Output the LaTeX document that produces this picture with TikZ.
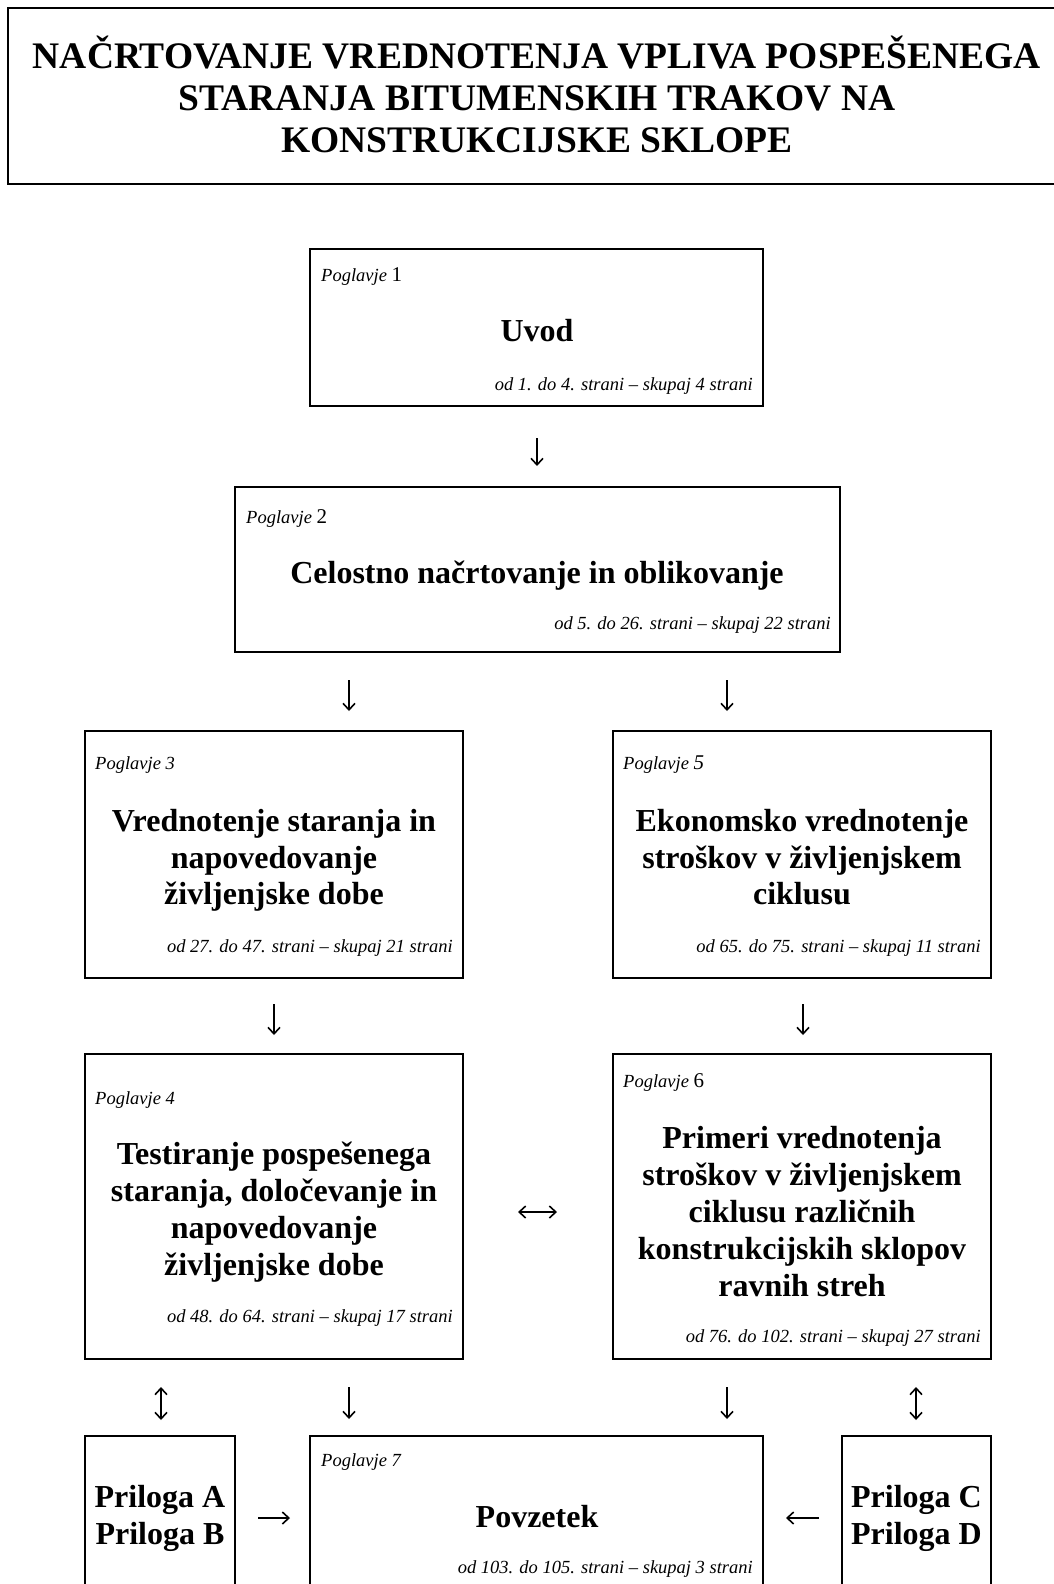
\documentclass[tikz,border=0pt]{standalone}
\usepackage{fontspec}
\setmainfont{Liberation Serif}
\usetikzlibrary{arrows.meta}
\begin{document}
\begin{tikzpicture}[x=1pt,y=-1pt,
  frame/.style={draw, line width=2pt, inner sep=0pt},
  chap/.style={font=\fontsize{18.5}{22}\selectfont\itshape, inner sep=0pt, anchor=base west},
  pages/.style={font=\fontsize{18.5}{22}\selectfont\itshape, inner sep=0pt, anchor=base east},
  ttl/.style={font=\fontsize{32}{37}\selectfont\bfseries, inner sep=0pt, anchor=base},
  head/.style={font=\fontsize{37.5}{42}\selectfont\bfseries, inner sep=0pt, anchor=base},
  arr/.style={line width=1.6pt, -{Straight Barb[length=6.5pt,width=12pt]}},
  darr/.style={line width=1.6pt, {Straight Barb[length=6.5pt,width=12pt]}-{Straight Barb[length=6.5pt,width=12pt]}}
]
\newcommand{\bignum}[1]{{\upshape\fontsize{21}{22}\selectfont #1}}
\fill[white] (0,0) rectangle (1054,1584);
\useasboundingbox (0,0) rectangle (1054,1584);

% title
\node[frame, minimum width=1062pt, minimum height=176pt] (hd) at (539,96) {};
\node[head] (h1) at (537,69) {NAČRTOVANJE VREDNOTENJA VPLIVA POSPEŠENEGA};
\node[head] (h2) at (537,111) {STARANJA BITUMENSKIH TRAKOV NA};
\node[head] (h3) at (537,153) {KONSTRUKCIJSKE SKLOPE};

% boxes
\node[frame, minimum width=453pt, minimum height=157pt] (b1) at (536.5,327.5) {};
\node[frame, minimum width=605pt, minimum height=165pt] (b2) at (537.5,569.5) {};
\node[frame, minimum width=378pt, minimum height=247pt] (b3) at (274,854.5) {};
\node[frame, minimum width=378pt, minimum height=247pt] (b5) at (802,854.5) {};
\node[frame, minimum width=378pt, minimum height=305pt] (b4) at (274,1206.5) {};
\node[frame, minimum width=378pt, minimum height=305pt] (b6) at (802,1206.5) {};
\node[frame, minimum width=453pt, minimum height=164pt] (b7) at (536.5,1518) {};
\node[frame, minimum width=150pt, minimum height=164pt] (pab) at (160,1518) {};
\node[frame, minimum width=149pt, minimum height=164pt] (pcd) at (916.5,1518) {};

% box 1
\node[chap] (b1c) at (321,281) {Poglavje \bignum{1}};
\node[ttl] (b1t) at (537,341) {Uvod};
\node[pages] (b1p) at (753,390) {od 1. do 4. strani – skupaj 4 strani};

% box 2
\node[chap] (b2c) at (246,523) {Poglavje \bignum{2}};
\node[ttl] (b2t) at (537,583) {Celostno načrtovanje in oblikovanje};
\node[pages] (b2p) at (831,629) {od 5. do 26. strani – skupaj 22 strani};

% box 3
\node[chap] (b3c) at (95,769) {Poglavje 3};
\node[ttl] (b3t1) at (274,831) {Vrednotenje staranja in};
\node[ttl] (b3t2) at (274,868) {napovedovanje};
\node[ttl] (b3t3) at (274,904) {življenjske dobe};
\node[pages] (b3p) at (453,952) {od 27. do 47. strani – skupaj 21 strani};

% box 5
\node[chap] (b5c) at (623,769) {Poglavje {\fontsize{21}{22}\selectfont 5}};
\node[ttl] (b5t1) at (802,831) {Ekonomsko vrednotenje};
\node[ttl] (b5t2) at (802,868) {stroškov v življenjskem};
\node[ttl] (b5t3) at (802,904) {ciklusu};
\node[pages] (b5p) at (981,952) {od 65. do 75. strani – skupaj 11 strani};

% box 4
\node[chap] (b4c) at (95,1104) {Poglavje 4};
\node[ttl] (b4t1) at (274,1164) {Testiranje pospešenega};
\node[ttl] (b4t2) at (274,1201) {staranja, določevanje in};
\node[ttl] (b4t3) at (274,1238) {napovedovanje};
\node[ttl] (b4t4) at (274,1275) {življenjske dobe};
\node[pages] (b4p) at (453,1322) {od 48. do 64. strani – skupaj 17 strani};

% box 6
\node[chap] (b6c) at (623,1087) {Poglavje \bignum{6}};
\node[ttl] (b6t1) at (802,1148) {Primeri vrednotenja};
\node[ttl] (b6t2) at (802,1185) {stroškov v življenjskem};
\node[ttl] (b6t3) at (802,1222) {ciklusu različnih};
\node[ttl] (b6t4) at (802,1259) {konstrukcijskih sklopov};
\node[ttl] (b6t5) at (802,1296) {ravnih streh};
\node[pages] (b6p) at (981,1342) {od 76. do 102. strani – skupaj 27 strani};

% box 7
\node[chap] (b7c) at (321,1466) {Poglavje 7};
\node[ttl] (b7t) at (537,1527) {Povzetek};
\node[pages] (b7p) at (753,1573) {od 103. do 105. strani – skupaj 3 strani};

% appendices
\node[ttl] (pa) at (160,1507) {Priloga A};
\node[ttl] (pb) at (160,1544) {Priloga B};
\node[ttl] (pc) at (916.5,1507) {Priloga C};
\node[ttl] (pd) at (916.5,1544) {Priloga D};

% connectors
\draw[arr, shorten <=31pt, shorten >=20pt] (537,0 |- b1.south) -- (537,0 |- b2.north);
\draw[arr, shorten <=27pt, shorten >=19pt] (349,0 |- b2.south) -- (349,0 |- b3.north);
\draw[arr, shorten <=27pt, shorten >=19pt] (727,0 |- b2.south) -- (727,0 |- b5.north);
\draw[arr, shorten <=25pt, shorten >=18pt] (274,0 |- b3.south) -- (274,0 |- b4.north);
\draw[arr, shorten <=25pt, shorten >=18pt] (803,0 |- b5.south) -- (803,0 |- b6.north);
\draw[darr, shorten <=54pt, shorten >=55pt] (b4.east |- 0,1212) -- (b6.west |- 0,1212);
\draw[darr, shorten <=27pt, shorten >=15pt] (161,0 |- b4.south) -- (161,0 |- pab.north);
\draw[arr, shorten <=27pt, shorten >=16pt] (349,0 |- b4.south) -- (349,0 |- b7.north);
\draw[arr, shorten <=27pt, shorten >=16pt] (727,0 |- b6.south) -- (727,0 |- b7.north);
\draw[darr, shorten <=27pt, shorten >=15pt] (916,0 |- b6.south) -- (916,0 |- pcd.north);
\draw[arr, shorten <=22pt, shorten >=19pt] (pab.east |- 0,1518) -- (b7.west |- 0,1518);
\draw[arr, shorten <=22pt, shorten >=22pt] (pcd.west |- 0,1518) -- (b7.east |- 0,1518);
\end{tikzpicture}
\end{document}
